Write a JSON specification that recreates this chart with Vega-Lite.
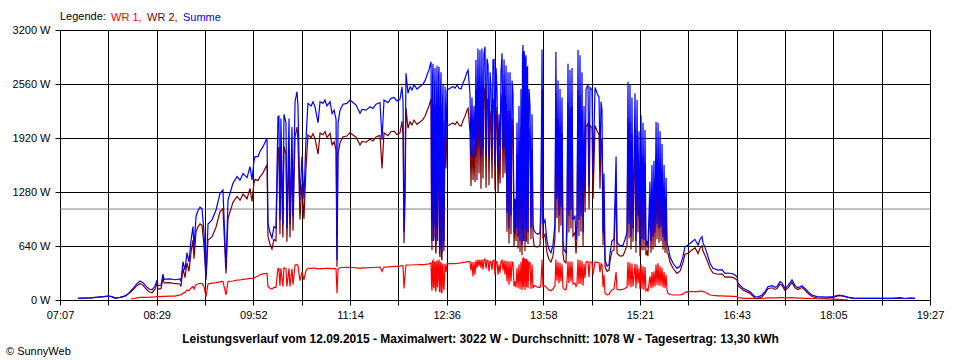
{
"$schema":"https://vega.github.io/schema/vega-lite/v6.json",
"width":870,"height":270,
"autosize":{"type":"none"},
"padding":{"left":60,"top":30,"right":30,"bottom":60},
"background":"white",
"config":{"view":{"stroke":"#000","strokeWidth":1},"font":"Liberation Sans",
"axis":{"domainColor":"#000","tickColor":"#000","gridColor":"#000","gridOpacity":1,"gridWidth":1,"labelColor":"#000","labelFont":"Liberation Sans","labelFontSize":11,"tickSize":5,"labelPadding":4,"domainWidth":1,"tickWidth":1}},
"title":{"text":"© SunnyWeb","orient":"bottom","anchor":"start","frame":"group","dx":-54,"offset":2,"fontSize":11,"fontWeight":"normal","color":"#000","font":"Liberation Sans"},
"data":{"values":[
{"t":442.3,"wr1":null,"wr2":20,"summe":20},
{"t":452.5,"wr1":null,"wr2":25,"summe":25},
{"t":457.6,"wr1":null,"wr2":32,"summe":32},
{"t":464.4,"wr1":null,"wr2":40,"summe":40},
{"t":467.8,"wr1":null,"wr2":47,"summe":47},
{"t":471.2,"wr1":null,"wr2":40,"summe":40},
{"t":473.8,"wr1":null,"wr2":22,"summe":22},
{"t":478.0,"wr1":null,"wr2":32,"summe":32},
{"t":482.3,"wr1":null,"wr2":45,"summe":45},
{"t":484.8,"wr1":null,"wr2":70,"summe":70},
{"t":487.4,"wr1":12,"wr2":98,"summe":110},
{"t":489.9,"wr1":18,"wr2":132,"summe":150},
{"t":492.5,"wr1":25,"wr2":170,"summe":195},
{"t":495.0,"wr1":30,"wr2":195,"summe":225},
{"t":497.6,"wr1":30,"wr2":175,"summe":205},
{"t":500.1,"wr1":32,"wr2":133,"summe":165},
{"t":502.7,"wr1":33,"wr2":97,"summe":130},
{"t":505.3,"wr1":35,"wr2":85,"summe":120},
{"t":507.8,"wr1":37,"wr2":128,"summe":165},
{"t":509.5,"wr1":40,"wr2":197,"summe":237},
{"t":510.4,"wr1":40,"wr2":130,"summe":170},
{"t":512.9,"wr1":40,"wr2":135,"summe":175},
{"t":514.6,"wr1":42,"wr2":266,"summe":308},
{"t":515.5,"wr1":42,"wr2":203,"summe":245},
{"t":520.6,"wr1":45,"wr2":205,"summe":250},
{"t":524.8,"wr1":47,"wr2":193,"summe":240},
{"t":529.1,"wr1":60,"wr2":190,"summe":250},
{"t":529.9,"wr1":60,"wr2":160,"summe":220},
{"t":531.6,"wr1":79,"wr2":375,"summe":454},
{"t":533.3,"wr1":90,"wr2":265,"summe":355},
{"t":535.0,"wr1":119,"wr2":441,"summe":560},
{"t":536.7,"wr1":110,"wr2":340,"summe":450},
{"t":538.4,"wr1":140,"wr2":560,"summe":700},
{"t":540.1,"wr1":160,"wr2":710,"summe":870},
{"t":541.0,"wr1":130,"wr2":490,"summe":620},
{"t":542.7,"wr1":180,"wr2":810,"summe":990},
{"t":544.4,"wr1":190,"wr2":870,"summe":1060},
{"t":546.1,"wr1":198,"wr2":902,"summe":1100},
{"t":547.8,"wr1":195,"wr2":885,"summe":1080},
{"t":549.5,"wr1":160,"wr2":640,"summe":800},
{"t":551.2,"wr1":40,"wr2":236,"summe":276},
{"t":552.9,"wr1":190,"wr2":710,"summe":900},
{"t":556.3,"wr1":200,"wr2":750,"summe":950},
{"t":559.7,"wr1":205,"wr2":862,"summe":1067},
{"t":563.1,"wr1":215,"wr2":1049,"summe":1264},
{"t":565.6,"wr1":220,"wr2":1084,"summe":1304},
{"t":568.2,"wr1":60,"wr2":315,"summe":375},
{"t":569.9,"wr1":220,"wr2":965,"summe":1185},
{"t":574.1,"wr1":225,"wr2":1158,"summe":1383},
{"t":577.6,"wr1":235,"wr2":1227,"summe":1462},
{"t":580.1,"wr1":237,"wr2":1183,"summe":1420},
{"t":582.7,"wr1":245,"wr2":1255,"summe":1500},
{"t":586.1,"wr1":250,"wr2":1200,"summe":1450},
{"t":588.6,"wr1":257,"wr2":1323,"summe":1580},
{"t":590.3,"wr1":255,"wr2":1167,"summe":1422},
{"t":592.0,"wr1":260,"wr2":1390,"summe":1650},
{"t":592.9,"wr1":270,"wr2":1430,"summe":1700},
{"t":595.4,"wr1":285,"wr2":1415,"summe":1700},
{"t":597.1,"wr1":300,"wr2":1460,"summe":1760},
{"t":599.7,"wr1":310,"wr2":1507,"summe":1817},
{"t":601.4,"wr1":313,"wr2":1557,"summe":1870},
{"t":603.1,"wr1":316,"wr2":1600,"summe":1916},
{"t":603.9,"wr1":160,"wr2":752,"summe":912},
{"t":605.6,"wr1":140,"wr2":660,"summe":800},
{"t":607.3,"wr1":130,"wr2":605,"summe":735},
{"t":609.0,"wr1":150,"wr2":720,"summe":870},
{"t":610.7,"wr1":150,"wr2":700,"summe":850},
{"t":612.4,"wr1":370,"wr2":1803,"summe":2173},
{"t":613.2,"wr1":375,"wr2":1805,"summe":2180},
{"t":614.1,"wr1":170,"wr2":780,"summe":950},
{"t":614.9,"wr1":375,"wr2":1775,"summe":2150},
{"t":616.6,"wr1":160,"wr2":740,"summe":900},
{"t":617.5,"wr1":380,"wr2":1820,"summe":2200},
{"t":619.2,"wr1":370,"wr2":1730,"summe":2100},
{"t":620.0,"wr1":160,"wr2":690,"summe":850},
{"t":621.8,"wr1":375,"wr2":1775,"summe":2150},
{"t":622.6,"wr1":160,"wr2":740,"summe":900},
{"t":624.3,"wr1":370,"wr2":1680,"summe":2050},
{"t":625.2,"wr1":180,"wr2":820,"summe":1000},
{"t":626.9,"wr1":415,"wr2":1935,"summe":2350},
{"t":628.6,"wr1":420,"wr2":2049,"summe":2469},
{"t":629.4,"wr1":410,"wr2":1890,"summe":2300},
{"t":631.1,"wr1":230,"wr2":955,"summe":1185},
{"t":632.8,"wr1":330,"wr2":1370,"summe":1700},
{"t":634.5,"wr1":240,"wr2":960,"summe":1200},
{"t":636.2,"wr1":350,"wr2":1550,"summe":1900},
{"t":637.9,"wr1":375,"wr2":1955,"summe":2330},
{"t":640.5,"wr1":375,"wr2":1925,"summe":2300},
{"t":642.2,"wr1":378,"wr2":1972,"summe":2350},
{"t":643.9,"wr1":378,"wr2":1912,"summe":2290},
{"t":646.5,"wr1":370,"wr2":1730,"summe":2100},
{"t":648.2,"wr1":372,"wr2":1978,"summe":2350},
{"t":650.7,"wr1":372,"wr2":1958,"summe":2330},
{"t":652.4,"wr1":375,"wr2":1995,"summe":2370},
{"t":654.1,"wr1":375,"wr2":1925,"summe":2300},
{"t":656.7,"wr1":375,"wr2":1975,"summe":2350},
{"t":658.4,"wr1":372,"wr2":1838,"summe":2210},
{"t":660.1,"wr1":375,"wr2":1875,"summe":2250},
{"t":661.8,"wr1":370,"wr2":1770,"summe":2140},
{"t":662.6,"wr1":79,"wr2":395,"summe":474},
{"t":663.5,"wr1":370,"wr2":1730,"summe":2100},
{"t":665.2,"wr1":385,"wr2":1865,"summe":2250},
{"t":667.7,"wr1":385,"wr2":1935,"summe":2320},
{"t":671.1,"wr1":387,"wr2":1943,"summe":2330},
{"t":673.7,"wr1":387,"wr2":1983,"summe":2370},
{"t":676.2,"wr1":385,"wr2":1955,"summe":2340},
{"t":678.8,"wr1":380,"wr2":1930,"summe":2310},
{"t":682.2,"wr1":375,"wr2":1837,"summe":2212},
{"t":683.9,"wr1":380,"wr2":1880,"summe":2260},
{"t":687.3,"wr1":380,"wr2":1870,"summe":2250},
{"t":690.7,"wr1":385,"wr2":1905,"summe":2290},
{"t":693.2,"wr1":385,"wr2":1885,"summe":2270},
{"t":695.8,"wr1":388,"wr2":1932,"summe":2320},
{"t":699.2,"wr1":390,"wr2":1950,"summe":2340},
{"t":700.9,"wr1":340,"wr2":1560,"summe":1900},
{"t":702.6,"wr1":390,"wr2":1980,"summe":2370},
{"t":706.0,"wr1":392,"wr2":1948,"summe":2340},
{"t":708.5,"wr1":395,"wr2":1995,"summe":2390},
{"t":711.1,"wr1":398,"wr2":2002,"summe":2400},
{"t":713.6,"wr1":398,"wr2":1962,"summe":2360},
{"t":716.2,"wr1":400,"wr2":1980,"summe":2380},
{"t":717.9,"wr1":410,"wr2":2118,"summe":2528},
{"t":718.8,"wr1":400,"wr2":1940,"summe":2340},
{"t":719.6,"wr1":138,"wr2":672,"summe":810},
{"t":720.5,"wr1":300,"wr2":1200,"summe":1500},
{"t":721.3,"wr1":415,"wr2":2272,"summe":2687},
{"t":723.0,"wr1":415,"wr2":2035,"summe":2450},
{"t":724.7,"wr1":415,"wr2":2113,"summe":2528},
{"t":726.4,"wr1":415,"wr2":2075,"summe":2490},
{"t":728.1,"wr1":418,"wr2":2132,"summe":2550},
{"t":730.7,"wr1":418,"wr2":2082,"summe":2500},
{"t":733.2,"wr1":420,"wr2":2110,"summe":2530},
{"t":735.8,"wr1":420,"wr2":2140,"summe":2560},
{"t":737.5,"wr1":422,"wr2":2178,"summe":2600},
{"t":739.2,"wr1":425,"wr2":2242,"summe":2667},
{"t":740.9,"wr1":428,"wr2":2302,"summe":2730},
{"t":742.6,"wr1":440,"wr2":2385,"summe":2825},
{"t":743.0,"wr1":200,"wr2":1000,"summe":1200},
{"t":743.4,"wr1":110,"wr2":590,"summe":700},
{"t":743.9,"wr1":460,"wr2":2200,"summe":2660},
{"t":744.3,"wr1":470,"wr2":2330,"summe":2800},
{"t":744.7,"wr1":160,"wr2":700,"summe":860},
{"t":745.1,"wr1":140,"wr2":760,"summe":900},
{"t":745.6,"wr1":440,"wr2":2100,"summe":2540},
{"t":746.0,"wr1":460,"wr2":2290,"summe":2750},
{"t":746.4,"wr1":120,"wr2":600,"summe":720},
{"t":746.8,"wr1":100,"wr2":550,"summe":650},
{"t":747.2,"wr1":400,"wr2":1900,"summe":2300},
{"t":747.7,"wr1":470,"wr2":2310,"summe":2780},
{"t":748.1,"wr1":150,"wr2":700,"summe":850},
{"t":748.5,"wr1":250,"wr2":1250,"summe":1500},
{"t":749.0,"wr1":455,"wr2":2200,"summe":2655},
{"t":749.4,"wr1":465,"wr2":2300,"summe":2765},
{"t":749.8,"wr1":110,"wr2":560,"summe":670},
{"t":750.2,"wr1":90,"wr2":510,"summe":600},
{"t":750.6,"wr1":420,"wr2":2000,"summe":2420},
{"t":751.1,"wr1":450,"wr2":2250,"summe":2700},
{"t":751.5,"wr1":100,"wr2":500,"summe":600},
{"t":751.9,"wr1":80,"wr2":470,"summe":550},
{"t":752.3,"wr1":400,"wr2":1900,"summe":2300},
{"t":752.8,"wr1":430,"wr2":2130,"summe":2560},
{"t":753.2,"wr1":150,"wr2":700,"summe":850},
{"t":753.6,"wr1":120,"wr2":580,"summe":700},
{"t":754.5,"wr1":430,"wr2":2100,"summe":2530},
{"t":755.3,"wr1":330,"wr2":1560,"summe":1890},
{"t":756.2,"wr1":428,"wr2":2062,"summe":2490},
{"t":758.7,"wr1":430,"wr2":2080,"summe":2510},
{"t":761.3,"wr1":432,"wr2":2098,"summe":2530},
{"t":763.0,"wr1":432,"wr2":2078,"summe":2510},
{"t":764.7,"wr1":435,"wr2":2113,"summe":2548},
{"t":766.4,"wr1":437,"wr2":2073,"summe":2510},
{"t":768.1,"wr1":440,"wr2":2060,"summe":2500},
{"t":769.8,"wr1":445,"wr2":2125,"summe":2570},
{"t":771.5,"wr1":448,"wr2":2179,"summe":2627},
{"t":773.2,"wr1":452,"wr2":2248,"summe":2700},
{"t":774.1,"wr1":454,"wr2":2272,"summe":2726},
{"t":775.7,"wr1":455,"wr2":1995,"summe":2450},
{"t":776.6,"wr1":350,"wr2":1350,"summe":1700},
{"t":777.4,"wr1":450,"wr2":1950,"summe":2400},
{"t":778.3,"wr1":280,"wr2":1422,"summe":1700},
{"t":779.1,"wr1":450,"wr2":1850,"summe":2300},
{"t":780.0,"wr1":300,"wr2":1400,"summe":1700},
{"t":780.8,"wr1":470,"wr2":2374,"summe":2844},
{"t":781.7,"wr1":380,"wr2":1420,"summe":1800},
{"t":782.5,"wr1":480,"wr2":2502,"summe":2982},
{"t":783.4,"wr1":400,"wr2":1500,"summe":1900},
{"t":784.2,"wr1":480,"wr2":2480,"summe":2960},
{"t":785.1,"wr1":380,"wr2":1320,"summe":1700},
{"t":785.9,"wr1":480,"wr2":2500,"summe":2980},
{"t":786.8,"wr1":360,"wr2":1440,"summe":1800},
{"t":787.6,"wr1":470,"wr2":2450,"summe":2920},
{"t":788.5,"wr1":485,"wr2":2517,"summe":3002},
{"t":789.4,"wr1":370,"wr2":1330,"summe":1700},
{"t":790.2,"wr1":470,"wr2":2390,"summe":2860},
{"t":791.1,"wr1":465,"wr2":2320,"summe":2785},
{"t":791.9,"wr1":340,"wr2":1360,"summe":1700},
{"t":792.8,"wr1":460,"wr2":2240,"summe":2700},
{"t":793.6,"wr1":455,"wr2":2045,"summe":2500},
{"t":794.5,"wr1":360,"wr2":1440,"summe":1800},
{"t":795.3,"wr1":470,"wr2":2374,"summe":2844},
{"t":796.2,"wr1":470,"wr2":2380,"summe":2850},
{"t":797.0,"wr1":300,"wr2":1300,"summe":1600},
{"t":797.9,"wr1":460,"wr2":2290,"summe":2750},
{"t":798.7,"wr1":450,"wr2":2050,"summe":2500},
{"t":799.6,"wr1":300,"wr2":1268,"summe":1568},
{"t":800.4,"wr1":420,"wr2":1780,"summe":2200},
{"t":801.3,"wr1":320,"wr2":1380,"summe":1700},
{"t":802.1,"wr1":455,"wr2":2245,"summe":2700},
{"t":803.0,"wr1":470,"wr2":2453,"summe":2923},
{"t":803.8,"wr1":350,"wr2":1450,"summe":1800},
{"t":804.7,"wr1":470,"wr2":2380,"summe":2850},
{"t":805.5,"wr1":300,"wr2":1500,"summe":1800},
{"t":806.4,"wr1":465,"wr2":2315,"summe":2780},
{"t":807.2,"wr1":220,"wr2":810,"summe":1030},
{"t":808.1,"wr1":460,"wr2":2240,"summe":2700},
{"t":808.9,"wr1":180,"wr2":670,"summe":850},
{"t":809.8,"wr1":455,"wr2":2245,"summe":2700},
{"t":810.6,"wr1":220,"wr2":780,"summe":1000},
{"t":811.5,"wr1":450,"wr2":2150,"summe":2600},
{"t":812.3,"wr1":440,"wr2":2010,"summe":2450},
{"t":813.2,"wr1":160,"wr2":640,"summe":800},
{"t":814.0,"wr1":220,"wr2":980,"summe":1200},
{"t":814.9,"wr1":150,"wr2":700,"summe":850},
{"t":815.7,"wr1":380,"wr2":1720,"summe":2100},
{"t":816.6,"wr1":140,"wr2":610,"summe":750},
{"t":817.4,"wr1":420,"wr2":1880,"summe":2300},
{"t":818.3,"wr1":130,"wr2":570,"summe":700},
{"t":819.1,"wr1":450,"wr2":2050,"summe":2500},
{"t":820.0,"wr1":120,"wr2":530,"summe":650},
{"t":820.4,"wr1":470,"wr2":2400,"summe":2870},
{"t":820.8,"wr1":500,"wr2":2522,"summe":3022},
{"t":821.2,"wr1":150,"wr2":700,"summe":850},
{"t":821.7,"wr1":490,"wr2":2460,"summe":2950},
{"t":822.1,"wr1":480,"wr2":2420,"summe":2900},
{"t":822.5,"wr1":120,"wr2":580,"summe":700},
{"t":823.0,"wr1":470,"wr2":2350,"summe":2820},
{"t":823.4,"wr1":485,"wr2":2415,"summe":2900},
{"t":823.8,"wr1":150,"wr2":690,"summe":840},
{"t":824.2,"wr1":470,"wr2":2280,"summe":2750},
{"t":824.7,"wr1":460,"wr2":2300,"summe":2760},
{"t":825.1,"wr1":140,"wr2":660,"summe":800},
{"t":825.5,"wr1":300,"wr2":1500,"summe":1800},
{"t":825.9,"wr1":450,"wr2":2050,"summe":2500},
{"t":826.8,"wr1":440,"wr2":1860,"summe":2300},
{"t":827.6,"wr1":130,"wr2":720,"summe":850},
{"t":828.5,"wr1":420,"wr2":1780,"summe":2200},
{"t":829.3,"wr1":140,"wr2":760,"summe":900},
{"t":830.2,"wr1":170,"wr2":650,"summe":820},
{"t":831.9,"wr1":160,"wr2":630,"summe":790},
{"t":833.6,"wr1":150,"wr2":630,"summe":780},
{"t":835.3,"wr1":150,"wr2":650,"summe":800},
{"t":836.1,"wr1":200,"wr2":1000,"summe":1200},
{"t":837.0,"wr1":480,"wr2":2490,"summe":2970},
{"t":837.8,"wr1":160,"wr2":740,"summe":900},
{"t":839.5,"wr1":170,"wr2":780,"summe":950},
{"t":841.2,"wr1":140,"wr2":560,"summe":700},
{"t":842.9,"wr1":120,"wr2":480,"summe":600},
{"t":844.6,"wr1":110,"wr2":450,"summe":560},
{"t":846.3,"wr1":130,"wr2":520,"summe":650},
{"t":848.0,"wr1":170,"wr2":730,"summe":900},
{"t":848.8,"wr1":480,"wr2":2460,"summe":2940},
{"t":849.7,"wr1":230,"wr2":970,"summe":1200},
{"t":850.6,"wr1":450,"wr2":2150,"summe":2600},
{"t":851.4,"wr1":200,"wr2":800,"summe":1000},
{"t":852.3,"wr1":440,"wr2":2060,"summe":2500},
{"t":853.1,"wr1":220,"wr2":880,"summe":1100},
{"t":854.0,"wr1":420,"wr2":1980,"summe":2400},
{"t":854.8,"wr1":150,"wr2":550,"summe":700},
{"t":855.7,"wr1":130,"wr2":463,"summe":593},
{"t":857.4,"wr1":120,"wr2":440,"summe":560},
{"t":858.2,"wr1":200,"wr2":800,"summe":1000},
{"t":859.1,"wr1":460,"wr2":2340,"summe":2800},
{"t":859.9,"wr1":200,"wr2":800,"summe":1000},
{"t":860.8,"wr1":455,"wr2":2271,"summe":2726},
{"t":861.6,"wr1":220,"wr2":847,"summe":1067},
{"t":862.5,"wr1":455,"wr2":2295,"summe":2750},
{"t":863.3,"wr1":190,"wr2":758,"summe":948},
{"t":865.0,"wr1":200,"wr2":800,"summe":1000},
{"t":865.9,"wr1":160,"wr2":550,"summe":710},
{"t":866.7,"wr1":180,"wr2":720,"summe":900},
{"t":867.6,"wr1":480,"wr2":2483,"summe":2963},
{"t":868.4,"wr1":190,"wr2":760,"summe":950},
{"t":869.3,"wr1":475,"wr2":2425,"summe":2900},
{"t":870.1,"wr1":190,"wr2":810,"summe":1000},
{"t":871.0,"wr1":460,"wr2":2240,"summe":2700},
{"t":871.9,"wr1":170,"wr2":630,"summe":800},
{"t":872.7,"wr1":430,"wr2":1870,"summe":2300},
{"t":873.6,"wr1":260,"wr2":1040,"summe":1300},
{"t":874.4,"wr1":450,"wr2":2050,"summe":2500},
{"t":876.1,"wr1":455,"wr2":2093,"summe":2548},
{"t":877.0,"wr1":270,"wr2":1080,"summe":1350},
{"t":877.8,"wr1":450,"wr2":2070,"summe":2520},
{"t":879.5,"wr1":448,"wr2":2042,"summe":2490},
{"t":880.4,"wr1":300,"wr2":1200,"summe":1500},
{"t":882.1,"wr1":450,"wr2":2070,"summe":2520},
{"t":883.8,"wr1":445,"wr2":2005,"summe":2450},
{"t":885.5,"wr1":440,"wr2":1960,"summe":2400},
{"t":886.3,"wr1":330,"wr2":1320,"summe":1650},
{"t":887.2,"wr1":430,"wr2":1920,"summe":2350},
{"t":888.0,"wr1":420,"wr2":1830,"summe":2250},
{"t":888.9,"wr1":150,"wr2":650,"summe":800},
{"t":889.7,"wr1":300,"wr2":1200,"summe":1500},
{"t":890.6,"wr1":80,"wr2":394,"summe":474},
{"t":892.3,"wr1":60,"wr2":340,"summe":400},
{"t":894.0,"wr1":65,"wr2":355,"summe":420},
{"t":894.8,"wr1":90,"wr2":460,"summe":550},
{"t":896.5,"wr1":120,"wr2":580,"summe":700},
{"t":898.2,"wr1":130,"wr2":590,"summe":720},
{"t":900.0,"wr1":330,"wr2":1370,"summe":1700},
{"t":900.8,"wr1":125,"wr2":555,"summe":680},
{"t":903.3,"wr1":120,"wr2":520,"summe":640},
{"t":905.9,"wr1":125,"wr2":525,"summe":650},
{"t":907.6,"wr1":140,"wr2":580,"summe":720},
{"t":909.3,"wr1":150,"wr2":650,"summe":800},
{"t":910.1,"wr1":450,"wr2":2138,"summe":2588},
{"t":911.0,"wr1":170,"wr2":730,"summe":900},
{"t":911.8,"wr1":445,"wr2":2105,"summe":2550},
{"t":912.7,"wr1":150,"wr2":600,"summe":750},
{"t":913.5,"wr1":430,"wr2":1970,"summe":2400},
{"t":914.4,"wr1":160,"wr2":690,"summe":850},
{"t":916.1,"wr1":430,"wr2":2020,"summe":2450},
{"t":916.9,"wr1":140,"wr2":560,"summe":700},
{"t":917.8,"wr1":420,"wr2":1950,"summe":2370},
{"t":918.6,"wr1":200,"wr2":800,"summe":1000},
{"t":919.5,"wr1":380,"wr2":1620,"summe":2000},
{"t":920.3,"wr1":130,"wr2":520,"summe":650},
{"t":921.2,"wr1":420,"wr2":1770,"summe":2190},
{"t":922.0,"wr1":130,"wr2":590,"summe":720},
{"t":922.9,"wr1":400,"wr2":1700,"summe":2100},
{"t":923.7,"wr1":120,"wr2":591,"summe":711},
{"t":924.6,"wr1":390,"wr2":1625,"summe":2015},
{"t":925.4,"wr1":110,"wr2":530,"summe":640},
{"t":926.3,"wr1":130,"wr2":570,"summe":700},
{"t":927.1,"wr1":100,"wr2":520,"summe":620},
{"t":928.8,"wr1":280,"wr2":1120,"summe":1400},
{"t":929.7,"wr1":140,"wr2":560,"summe":700},
{"t":930.5,"wr1":330,"wr2":1270,"summe":1600},
{"t":931.4,"wr1":150,"wr2":600,"summe":750},
{"t":932.2,"wr1":340,"wr2":1310,"summe":1650},
{"t":933.1,"wr1":160,"wr2":640,"summe":800},
{"t":934.0,"wr1":420,"wr2":1693,"summe":2113},
{"t":934.8,"wr1":180,"wr2":720,"summe":900},
{"t":935.7,"wr1":435,"wr2":1665,"summe":2100},
{"t":936.5,"wr1":170,"wr2":680,"summe":850},
{"t":937.4,"wr1":400,"wr2":1600,"summe":2000},
{"t":938.2,"wr1":170,"wr2":700,"summe":870},
{"t":939.1,"wr1":380,"wr2":1470,"summe":1850},
{"t":939.9,"wr1":150,"wr2":600,"summe":750},
{"t":940.8,"wr1":330,"wr2":1270,"summe":1600},
{"t":941.6,"wr1":140,"wr2":560,"summe":700},
{"t":942.5,"wr1":300,"wr2":1150,"summe":1450},
{"t":943.3,"wr1":120,"wr2":560,"summe":680},
{"t":944.2,"wr1":79,"wr2":551,"summe":630},
{"t":945.9,"wr1":65,"wr2":448,"summe":513},
{"t":948.4,"wr1":59,"wr2":376,"summe":435},
{"t":951.8,"wr1":59,"wr2":316,"summe":375},
{"t":954.4,"wr1":59,"wr2":341,"summe":400},
{"t":956.9,"wr1":70,"wr2":443,"summe":513},
{"t":958.6,"wr1":90,"wr2":542,"summe":632},
{"t":961.2,"wr1":99,"wr2":553,"summe":652},
{"t":964.6,"wr1":99,"wr2":592,"summe":691},
{"t":967.1,"wr1":99,"wr2":620,"summe":719},
{"t":969.7,"wr1":99,"wr2":551,"summe":650},
{"t":971.4,"wr1":105,"wr2":615,"summe":720},
{"t":973.1,"wr1":105,"wr2":645,"summe":750},
{"t":973.9,"wr1":100,"wr2":580,"summe":680},
{"t":975.6,"wr1":95,"wr2":529,"summe":624},
{"t":977.3,"wr1":80,"wr2":473,"summe":553},
{"t":979.9,"wr1":59,"wr2":376,"summe":435},
{"t":982.4,"wr1":55,"wr2":320,"summe":375},
{"t":986.7,"wr1":50,"wr2":305,"summe":355},
{"t":990.1,"wr1":50,"wr2":310,"summe":360},
{"t":992.6,"wr1":45,"wr2":271,"summe":316},
{"t":995.2,"wr1":45,"wr2":275,"summe":320},
{"t":999.5,"wr1":42,"wr2":268,"summe":310},
{"t":1002.9,"wr1":40,"wr2":236,"summe":276},
{"t":1003.7,"wr1":30,"wr2":170,"summe":200},
{"t":1008.0,"wr1":20,"wr2":118,"summe":138},
{"t":1013.9,"wr1":20,"wr2":79,"summe":99},
{"t":1018.2,"wr1":18,"wr2":22,"summe":40},
{"t":1020.7,"wr1":18,"wr2":17,"summe":35},
{"t":1024.1,"wr1":20,"wr2":39,"summe":59},
{"t":1026.7,"wr1":22,"wr2":77,"summe":99},
{"t":1029.2,"wr1":25,"wr2":133,"summe":158},
{"t":1032.6,"wr1":25,"wr2":145,"summe":170},
{"t":1035.2,"wr1":25,"wr2":125,"summe":150},
{"t":1036.9,"wr1":25,"wr2":135,"summe":160},
{"t":1039.4,"wr1":28,"wr2":189,"summe":217},
{"t":1041.1,"wr1":28,"wr2":172,"summe":200},
{"t":1043.7,"wr1":25,"wr2":113,"summe":138},
{"t":1046.2,"wr1":25,"wr2":145,"summe":170},
{"t":1049.6,"wr1":28,"wr2":209,"summe":237},
{"t":1052.2,"wr1":25,"wr2":145,"summe":170},
{"t":1054.7,"wr1":22,"wr2":123,"summe":145},
{"t":1058.1,"wr1":22,"wr2":148,"summe":170},
{"t":1060.7,"wr1":20,"wr2":118,"summe":138},
{"t":1063.2,"wr1":20,"wr2":79,"summe":99},
{"t":1066.6,"wr1":18,"wr2":41,"summe":59},
{"t":1070.9,"wr1":15,"wr2":25,"summe":40},
{"t":1079.4,"wr1":12,"wr2":23,"summe":35},
{"t":1084.5,"wr1":10,"wr2":30,"summe":40},
{"t":1089.6,"wr1":8,"wr2":51,"summe":59},
{"t":1093.0,"wr1":5,"wr2":45,"summe":50},
{"t":1097.2,"wr1":3,"wr2":32,"summe":35},
{"t":1102.3,"wr1":null,"wr2":20,"summe":20},
{"t":1116.0,"wr1":null,"wr2":20,"summe":20},
{"t":1135.6,"wr1":null,"wr2":20,"summe":20},
{"t":1141.5,"wr1":null,"wr2":25,"summe":25},
{"t":1145.8,"wr1":null,"wr2":18,"summe":18},
{"t":1150.0,"wr1":null,"wr2":22,"summe":22},
{"t":1154.3,"wr1":null,"wr2":20,"summe":20}
]},
"layer":[
{"data":{"values":[{"durchschnitt":1078}]},
 "mark":{"type":"rule","color":"#808080","strokeWidth":1},
 "encoding":{"y":{"field":"durchschnitt","type":"quantitative","scale":{"domain":[0,3200],"nice":false},
   "axis":{"values":[0,640,1280,1920,2560,3200],"labelExpr":"datum.value + ' W'","grid":true,"title":null,"labelPadding":5}}}},
{"mark":{"type":"line","strokeWidth":1.2},
 "encoding":{
  "x":{"field":"t","type":"quantitative","scale":{"domain":[427,1167],"nice":false,"zero":false},
   "axis":{"values":[427,468.1111,509.2222,550.3333,591.4444,632.5556,673.6667,714.7778,755.8889,797,838.1111,879.2222,920.3333,961.4444,1002.5556,1043.6667,1084.7778,1125.8889,1167],
    "labelExpr":"['07:07','','08:29','','09:52','','11:14','','12:36','','13:58','','15:21','','16:43','','18:05','','19:27'][round((datum.value-427)/41.1111)]",
    "labelOverlap":false,"labelBound":false,"labelFlush":false,"grid":true,
    "title":"Leistungsverlauf vom 12.09.2015 - Maximalwert: 3022 W - Durchschnitt: 1078 W - Tagesertrag: 13,30 kWh",
    "titleFont":"Liberation Sans","titleFontSize":12,"titleFontWeight":"bold","titleColor":"#000","titleX":420,"titleY":42,"titleBaseline":"alphabetic","titleAlign":"center"}},
  "y":{"field":"wr1","type":"quantitative","scale":{"domain":[0,3200],"nice":false},
   "axis":{"values":[0,640,1280,1920,2560,3200],"labelExpr":"datum.value + ' W'","grid":true,"title":null,"labelPadding":5}},
  "color":{"datum":"WR 1","scale":{"domain":["WR 1","WR 2","Summe"],"range":["#ff0000","#800000","#0000ff"]},
   "legend":{"orient":"top","direction":"horizontal","title":"Legende:","titleOrient":"left","titleFontWeight":"normal","titleFontSize":11,"titleFont":"Liberation Sans","titleColor":"#000","titlePadding":3,
    "labelFont":"Liberation Sans","labelFontSize":11,"symbolType":"circle","symbolSize":0,"symbolStrokeWidth":0,"symbolOpacity":0,"labelOffset":-9,"columnPadding":3,"offset":7,"padding":0,
    "labelExpr":"datum.label === 'Summe' ? datum.label : datum.label + ','",
    "encode":{"labels":{"update":{"fill":{"scale":"color","field":"value"}}}}}}}},
{"mark":{"type":"line","strokeWidth":1.2},
 "encoding":{
  "x":{"field":"t","type":"quantitative"},
  "y":{"field":"wr2","type":"quantitative","title":null},
  "color":{"datum":"WR 2"}}},
{"mark":{"type":"line","strokeWidth":1.2},
 "encoding":{
  "x":{"field":"t","type":"quantitative"},
  "y":{"field":"summe","type":"quantitative","title":null},
  "color":{"datum":"Summe"}}}
]
}
